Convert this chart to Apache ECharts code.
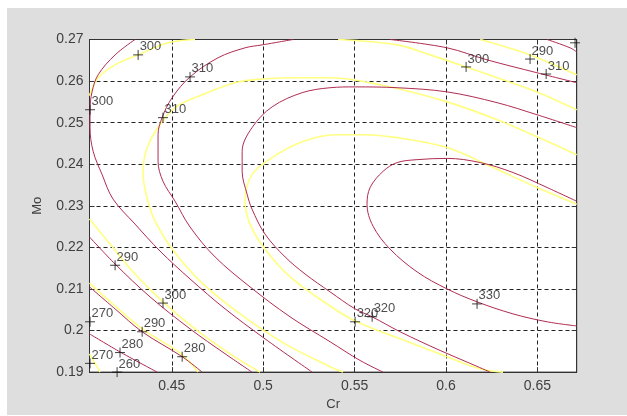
<!DOCTYPE html>
<html><head><meta charset="utf-8">
<script src="https://cdn.jsdelivr.net/npm/echarts@6/dist/echarts.min.js"></script>
<style>html,body{margin:0;padding:0;background:#fff}#c{width:627px;height:416px}</style>
</head><body><div id="c"></div>
<script>
// ---- tick labels ----
const xTicks = [0.45, 0.5, 0.55, 0.6, 0.65];
const yTicks = [0.19, 0.2, 0.21, 0.22, 0.23, 0.24, 0.25, 0.26, 0.27];

// ---- maroon contour lines [Cr, Mo] ----
const m300 = [[0.4299,0.27],[0.4190,0.2663],[0.4097,0.2615],[0.4064,0.2574],[0.4053,0.2531],[0.4053,0.2488],[0.4070,0.2431],[0.4119,0.2375],[0.4179,0.2316],[0.4299,0.2256],[0.4436,0.2191],[0.4600,0.2124],[0.4792,0.2052],[0.5010,0.1980],[0.5268,0.19]];
const m310a = [[0.5164,0.27],[0.4994,0.2687],[0.4901,0.2680],[0.4753,0.2656],[0.4600,0.2610],[0.4502,0.2560],[0.4447,0.2512],[0.4425,0.2471],[0.4425,0.2407],[0.4452,0.2359],[0.4518,0.2311],[0.4600,0.2249],[0.4737,0.2177],[0.4928,0.2105],[0.5147,0.2033],[0.5366,0.1973],[0.5530,0.1928],[0.5656,0.19]];
const m310b = [[0.5694,0.27],[0.6006,0.2680],[0.6225,0.2651],[0.6498,0.2620],[0.6715,0.2596]];
const m320 = [[0.6715,0.2488],[0.6498,0.2519],[0.6280,0.2548],[0.6006,0.2574],[0.5733,0.2584],[0.5503,0.2586],[0.5366,0.2584],[0.5213,0.2572],[0.5049,0.2538],[0.4939,0.2488],[0.4885,0.2431],[0.4885,0.2383],[0.4912,0.2328],[0.4939,0.2292],[0.5010,0.2232],[0.5120,0.2177],[0.5229,0.2136],[0.5366,0.2093],[0.5503,0.2052],[0.5596,0.2033],[0.5749,0.1997],[0.5968,0.1952],[0.6132,0.1921],[0.6241,0.19]];
const m330 = [[0.6715,0.2311],[0.6553,0.2344],[0.6367,0.2380],[0.6187,0.2404],[0.6006,0.2414],[0.5842,0.2411],[0.5733,0.2404],[0.5656,0.2383],[0.5585,0.2344],[0.5568,0.2304],[0.5601,0.2251],[0.5694,0.2196],[0.5842,0.2141],[0.6006,0.2100],[0.6170,0.2069],[0.6367,0.2040],[0.6553,0.2021],[0.6715,0.2011]];
const mCorner = [[0.6553,0.27],[0.6679,0.2680],[0.6715,0.2670]];
const m290 = [[0.405,0.2225],[0.4190,0.2160],[0.4381,0.2081],[0.4600,0.2004],[0.4792,0.1944],[0.4939,0.19]];
const m280 = [[0.405,0.2105],[0.4190,0.2052],[0.4338,0.1997],[0.4557,0.1937],[0.4666,0.19]];
const m270 = [[0.405,0.1992],[0.4223,0.1947],[0.4420,0.19]];

// ---- yellow contour lines [Cr, Mo] ----
const y300a = [[0.4627,0.27],[0.4480,0.2692],[0.4316,0.2663],[0.4190,0.2639],[0.4097,0.2608],[0.405,0.2565]];
const y300b = [[0.5410,0.27],[0.5733,0.2687],[0.5913,0.2663],[0.6110,0.2634],[0.6280,0.2608],[0.6498,0.2574],[0.6715,0.2531]];
const y300c = [[0.405,0.2268],[0.4162,0.2208],[0.4299,0.2136],[0.4452,0.2069],[0.4627,0.2004],[0.4819,0.1944],[0.4983,0.19]];
const y310 = [[0.6715,0.2423],[0.6498,0.2466],[0.6280,0.2507],[0.6006,0.2550],[0.5640,0.2591],[0.5366,0.2608],[0.5191,0.2608],[0.4994,0.2605],[0.4846,0.2596],[0.4666,0.2567],[0.4518,0.2536],[0.4409,0.2478],[0.4354,0.2423],[0.4343,0.2375],[0.4370,0.2311],[0.4409,0.2263],[0.4502,0.2196],[0.4655,0.2119],[0.4874,0.2040],[0.5120,0.1968],[0.5366,0.1913],[0.5437,0.19]];
const y320 = [[0.6715,0.2304],[0.6498,0.2344],[0.6258,0.2392],[0.6006,0.2440],[0.5733,0.2464],[0.5546,0.2471],[0.5393,0.2471],[0.5213,0.2454],[0.5049,0.2416],[0.4939,0.2375],[0.4901,0.2311],[0.4928,0.2256],[0.5010,0.2196],[0.5147,0.2129],[0.5366,0.2059],[0.5503,0.2023],[0.5749,0.1980],[0.6006,0.1937],[0.6187,0.1908],[0.6312,0.19]];
const y290a = [[0.6187,0.27],[0.6460,0.2663],[0.6715,0.2615]];
const y290b = [[0.405,0.2114],[0.4190,0.2059],[0.4338,0.2004],[0.4551,0.1944],[0.4644,0.19]];
const y270 = [[0.405,0.1944],[0.4108,0.19]];

// ---- contour labels [Cr, Mo, text] ----
const labelPts = [[0.4316,0.2663,'300'],[0.4053,0.2531,'300'],[0.4600,0.2610,'310'],[0.4452,0.2512,'310'],
  [0.6110,0.2634,'300'],[0.6460,0.2653,'290'],[0.6548,0.2617,'310'],[0.6706,0.2692,''],
  [0.4190,0.2157,'290'],[0.4452,0.2066,'300'],[0.4053,0.2021,'270'],[0.4053,0.1921,'270'],
  [0.4217,0.1947,'280'],[0.4201,0.19,'260'],[0.4338,0.1997,'290'],[0.4557,0.1937,'280'],
  [0.5503,0.2021,'320'],[0.5596,0.2033,'320'],[0.6170,0.2064,'330']];

const MAROON = '#b02c50', YELLOW = '#ffff80';
const maroonLines = [m300, m310a, m310b, m320, m330, mCorner, m290, m280, m270];
const yellowLines = [y300a, y300b, y300c, y310, y320, y290a, y290b, y270];

function fmt(list, v) {
  const m = list.find(t => Math.abs(t - v) < 1e-6);
  return m === undefined ? '' : String(+m.toFixed(2));
}
const FONT = 'Liberation Sans';
const series = [];
yellowLines.forEach(d => series.push({type:'line', data:d, showSymbol:false, smooth:0.35,
  lineStyle:{color:YELLOW, width:1.6}, silent:true, z:2}));
maroonLines.forEach(d => series.push({type:'line', data:d, showSymbol:false, smooth:0.35,
  lineStyle:{color:MAROON, width:1}, silent:true, z:3}));
series.push({type:'scatter', data:labelPts, clip:false, z:5,
  symbol:'path://M0,5L10,5M5,0L5,10', symbolSize:10,
  itemStyle:{color:'rgba(0,0,0,0)', borderColor:'#111', borderWidth:1},
  label:{show:true, position:[7,-9], formatter:p => p.value[2], color:'#222', fontSize:13, fontFamily:FONT}});

const chart = echarts.init(document.getElementById('c'), null, {renderer:'canvas'});
chart.setOption({
  animation:false,
  backgroundColor:'#ffffff',
  graphic:[{type:'rect', shape:{x:7, y:8, width:620, height:407}, style:{fill:'#dedede'}, z:-10, silent:true}],
  grid:{left:89.5, top:39.5, width:487.2, height:334.2, show:true, backgroundColor:'#ffffff', borderColor:'#333', borderWidth:1},
  xAxis:[{type:'value', min:0.405, max:0.6715, minInterval:0.05, maxInterval:0.05, position:'bottom',
    name:'Cr', nameLocation:'middle', nameGap:22, nameTextStyle:{color:'#404040', fontSize:13, fontFamily:FONT},
    axisLine:{lineStyle:{color:'#333'}}, axisTick:{inside:true, length:5, lineStyle:{color:'#333'}},
    axisLabel:{formatter:v => fmt(xTicks, v), color:'#404040', fontSize:14, fontFamily:FONT, margin:7},
    splitLine:{show:true, lineStyle:{color:'#222', type:[4,3], width:1}}},
   {type:'value', min:0.405, max:0.6715, minInterval:0.05, maxInterval:0.05, position:'top',
    axisLine:{lineStyle:{color:'#333'}}, axisTick:{inside:true, length:5, lineStyle:{color:'#333'}},
    axisLabel:{show:false}, splitLine:{show:false}}],
  yAxis:[{type:'value', min:0.19, max:0.27, interval:0.01, position:'left',
    name:'Mo', nameLocation:'middle', nameGap:46, nameTextStyle:{color:'#404040', fontSize:13, fontFamily:FONT},
    axisLine:{lineStyle:{color:'#333'}}, axisTick:{inside:true, length:5, lineStyle:{color:'#333'}},
    axisLabel:{formatter:v => fmt(yTicks, v), color:'#404040', fontSize:14, fontFamily:FONT, margin:6},
    splitLine:{show:true, lineStyle:{color:'#222', type:[4,3], width:1}}},
   {type:'value', min:0.19, max:0.27, interval:0.01, position:'right',
    axisLine:{lineStyle:{color:'#333'}}, axisTick:{inside:true, length:5, lineStyle:{color:'#333'}},
    axisLabel:{show:false}, splitLine:{show:false}}],
  series: series
});
</script></body></html>
